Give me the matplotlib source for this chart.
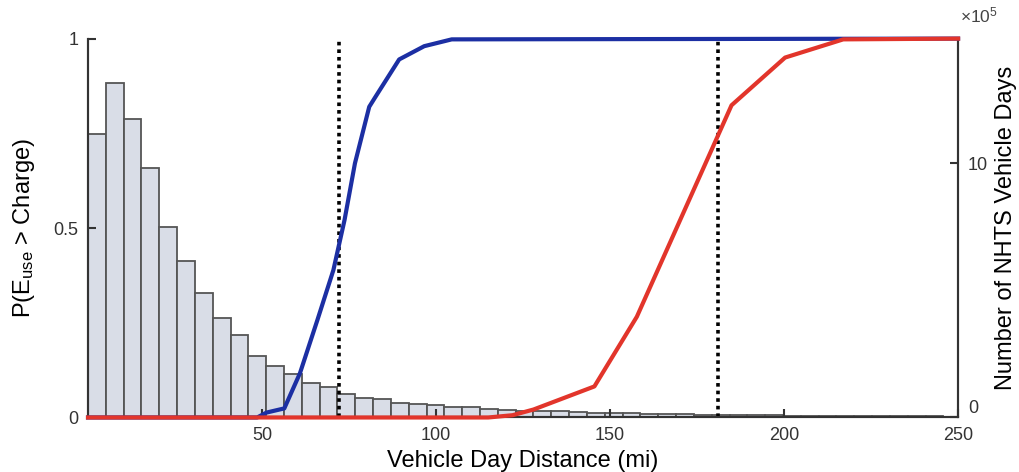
import numpy as np
import matplotlib
matplotlib.use("Agg")
import matplotlib.pyplot as plt

# NHTS vehicle-day distance histogram (counts per 5.12 mi bin, 50 bins)
bin_width = 5.12
day_counts = np.array([
    11.14, 13.15, 11.75, 9.80, 7.50, 6.16, 4.88, 3.90, 3.25, 2.41,
    2.03, 1.71, 1.35, 1.19, 0.92, 0.77, 0.73, 0.55, 0.52, 0.48,
    0.42, 0.40, 0.33, 0.30, 0.27, 0.24, 0.24, 0.20, 0.19, 0.17,
    0.16, 0.15, 0.14, 0.12, 0.11, 0.10, 0.09, 0.09, 0.08, 0.07,
    0.07, 0.06, 0.06, 0.05, 0.05, 0.04, 0.04, 0.04, 0.03, 0.03,
]) * 1e5
bin_left = np.arange(len(day_counts)) * bin_width

# probability that daily energy use exceeds the battery charge
small_dist = [0, 45, 48.6, 51.3, 56.4, 60.9, 65.9, 70.5, 73.7, 76.7, 80.8,
              82.5, 89.4, 96.6, 104.5, 250]
small_prob = [0, 0, 0.0, 0.013, 0.024, 0.117, 0.257, 0.389, 0.521, 0.671,
              0.820, 0.845, 0.945, 0.980, 0.998, 1.0]

large_dist = [0, 115, 122, 128, 145.5, 157.7, 184.9, 200.3, 217, 250]
large_prob = [0, 0, 0.006, 0.021, 0.082, 0.266, 0.824, 0.950, 0.998, 1.0]

# nominal range of each battery
ranges = [72.0, 181.1]

plt.rcParams["font.family"] = ["Liberation Sans", "DejaVu Sans"]
plt.rcParams["mathtext.fontset"] = "custom"
plt.rcParams["mathtext.rm"] = "Liberation Sans"

spine_color = "#333333"

fig = plt.figure(figsize=(10.2, 4.72), dpi=100)
ax = fig.add_axes([0.0863, 0.1155, 0.853, 0.8027])
ax2 = ax.twinx()

ax2.bar(bin_left, day_counts, width=bin_width, align="edge",
        color="#d9dde7", edgecolor="#555555", linewidth=1.3)
ax2.set_ylim(0, 14.89e5)
ax2.set_yticks([0, 10e5])
ax2.set_yticklabels(["0", "10"])
ax2.get_yticklabels()[0].set_verticalalignment("bottom")
ax2.set_ylabel("Number of NHTS Vehicle Days", fontsize=17, labelpad=5)
ax2.text(1.002, 1.035, r"$\times\mathregular{10^5}$", transform=ax2.transAxes,
         fontsize=12.5, color="#444444", ha="left", va="bottom")

# lines go above the bars
ax.set_zorder(ax2.get_zorder() + 1)
ax.patch.set_visible(False)

for r in ranges:
    ax.plot([r, r], [0, 1], color="black", linestyle=(0, (1, 1.1)),
            linewidth=2.6)
ax.plot(small_dist, small_prob, color="#1c2fa3", linewidth=3.0,
        solid_joinstyle="round", clip_on=False, zorder=3)
ax.plot(large_dist, large_prob, color="#e2352b", linewidth=3.0,
        solid_joinstyle="round", clip_on=False, zorder=3)

ax.set_xlim(0, 250)
ax.set_ylim(0, 1)
ax.set_xticks([50, 100, 150, 200, 250])
ax.set_yticks([0, 0.5, 1])
ax.set_yticklabels(["0", "0.5", "1"])
ax.set_xlabel("Vehicle Day Distance (mi)", fontsize=17, labelpad=4)
ax.set_ylabel(r"P(E$\mathregular{_{use}}$ > Charge)", fontsize=17, labelpad=12)

for a in (ax, ax2):
    a.spines["top"].set_visible(False)
    for s in ("left", "right", "bottom"):
        a.spines[s].set_color(spine_color)
        a.spines[s].set_linewidth(1.5)
    a.tick_params(direction="in", length=6, width=1.5, colors=spine_color,
                  labelsize=13, labelcolor="#333333", pad=7)

fig.savefig("out.png", dpi=100)
